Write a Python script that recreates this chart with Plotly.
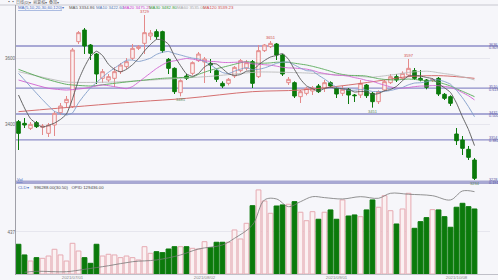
import plotly.graph_objects as go
import pandas as pd

W, H = 498, 280

opens = [3409, 3404, 3389, 3406, 3392, 3374, 3399, 3436, 3466, 3454,
         3649, 3684, 3639, 3612, 3539, 3534, 3539, 3559, 3574, 3599,
         3629, 3644, 3666, 3679, 3679, 3596, 3569, 3496, 3546, 3554,
         3592, 3588, 3584, 3562, 3524, 3524, 3546, 3562, 3569, 3589,
         3544, 3622, 3634, 3642, 3609, 3526, 3526, 3484, 3494, 3501,
         3516, 3509, 3526, 3509, 3494, 3506, 3489, 3489, 3519, 3494,
         3469, 3504, 3526, 3544, 3539, 3549, 3562, 3539, 3534, 3532,
         3539, 3491, 3484, 3372, 3354, 3326, 3294]
highs = [3414, 3420, 3408, 3411, 3402, 3405, 3441, 3465, 3486, 3630,
         3681, 3690, 3642, 3615, 3567, 3552, 3573, 3585, 3600, 3642,
         3639, 3729, 3684, 3686, 3682, 3600, 3572, 3536, 3552, 3590,
         3618, 3603, 3597, 3566, 3530, 3540, 3576, 3597, 3594, 3594,
         3639, 3642, 3651, 3645, 3612, 3543, 3530, 3504, 3513, 3516,
         3522, 3534, 3530, 3512, 3516, 3510, 3492, 3534, 3522, 3498,
         3503, 3534, 3552, 3552, 3560, 3597, 3570, 3564, 3537, 3540,
         3543, 3495, 3488, 3390, 3366, 3336, 3300]
lows = [3324, 3390, 3384, 3390, 3369, 3363, 3366, 3429, 3453, 3450,
        3642, 3612, 3594, 3522, 3525, 3528, 3513, 3552, 3567, 3594,
        3624, 3612, 3654, 3656, 3615, 3552, 3492, 3485, 3534, 3548,
        3588, 3525, 3555, 3528, 3510, 3518, 3540, 3557, 3563, 3510,
        3540, 3618, 3630, 3594, 3546, 3519, 3480, 3465, 3488, 3489,
        3495, 3498, 3512, 3480, 3486, 3462, 3468, 3480, 3480, 3451,
        3462, 3500, 3522, 3528, 3534, 3544, 3534, 3530, 3506, 3528,
        3486, 3474, 3456, 3339, 3309, 3294, 3234]
closes = [3374, 3399, 3401, 3394, 3396, 3399, 3434, 3456, 3476, 3624,
          3676, 3636, 3614, 3552, 3559, 3544, 3559, 3579, 3589, 3629,
          3634, 3676, 3675, 3664, 3622, 3569, 3499, 3532, 3539, 3586,
          3612, 3597, 3579, 3536, 3516, 3536, 3572, 3592, 3586, 3524,
          3622, 3639, 3644, 3609, 3552, 3536, 3486, 3499, 3509, 3510,
          3499, 3526, 3516, 3492, 3506, 3489, 3487, 3524, 3487, 3469,
          3499, 3529, 3544, 3534, 3554, 3569, 3539, 3534, 3512, 3536,
          3492, 3479, 3464, 3352, 3329, 3302, 3239]
volumes = [309, 198, 135, 170, 163, 187, 257, 198, 135, 319,
           239, 170, 111, 309, 187, 205, 198, 170, 187, 170,
           146, 284, 215, 232, 222, 260, 284, 284, 284, 267,
           260, 336, 274, 330, 330, 330, 458, 364, 527, 710,
           874, 759, 631, 707, 718, 725, 752, 642, 554, 648,
           569, 642, 666, 569, 770, 603, 614, 596, 666, 770,
           694, 814, 658, 520, 676, 839, 475, 544, 586, 669,
           666, 596, 486, 694, 735, 700, 676]
vol_ma_idx = [1, 3, 8, 11, 15, 19, 23, 27, 30, 34, 36, 39, 41, 43, 45, 47,
              49, 51, 54, 57, 60, 62, 65, 69, 72, 74, 76]
vol_ma = [18, 28, 24, 49, 86, 128, 146, 198, 260, 302, 371, 510, 770, 780,
          700, 752, 804, 794, 780, 804, 787, 839, 829, 814, 770, 863, 856]

# leading parts of the moving averages (earlier history not shown)
ma5_lead_idx = [0, 1, 2, 3]
ma5_lead = [3489, 3450, 3418, 3403]
ma10_lead_idx = [0, 2, 4, 6, 8]
ma10_lead = [3554, 3514, 3475, 3440, 3429]
ma20_lead_idx = [0, 5, 8, 11, 14, 16, 18]
ma20_lead = [3534, 3509, 3504, 3509, 3519, 3514, 3508]
ma30_lead_idx = [0, 4, 8, 12, 16, 20, 24, 28]
ma30_lead = [3566, 3540, 3521, 3516, 3524, 3532, 3539, 3542]
ma60_lead_idx = [0, 8, 16, 24, 32, 40, 48, 56, 58]
ma60_lead = [3559, 3528, 3528, 3536, 3545, 3558, 3555, 3546, 3543]
ma120_idx = [0, 11, 20, 28, 39, 47, 55, 61, 65, 70, 73, 76]
ma120 = [3439, 3456, 3469, 3479, 3499, 3504, 3519, 3534, 3544, 3547, 3544, 3539]

fib_high, fib_low = 3762, 3102
fib_ratios = [0.809, 0.618, 0.500, 0.382, 0.191]

high_marks = [21, 42, 65]
low_marks = [27, 59, 76]

date_ticks = [9, 31, 53, 73]
date_labels = ["2021/07/01", "2021/08/02", "2021/09/01", "2021/10/08"]
price_ticks = [3400, 3600]
vol_ticks = [437]

header = [("MA5", 3334.86, "#555555"), ("MA10", 3422.60, "#5b7fb5"),
          ("MA20", 3475.25, "#cc44cc"), ("MA30", 3482.80, "#3c9a3c"),
          ("MA60", 3535.00, "#aaaaaa"), ("MA120", 3539.23, "#d05050")]
ma_colors = {"MA5": "#555555", "MA10": "#7f9cc8", "MA20": "#d060d0",
             "MA30": "#55a855", "MA60": "#bbbbbb", "MA120": "#d06060"}

N = len(closes)
idx = list(range(N))

UP_LINE, UP_FILL = "#e48a8a", "#fbf1f2"
DN = "#0b7a0b"
FIB = "#8e8ec8"
FONT = "Liberation Sans, Arial, sans-serif"

fig = go.Figure()

def ma_trace(name, n, lead_idx, lead_vals):
    s = pd.Series(closes).rolling(n).mean()
    comp = [i for i in idx if i >= n - 1]
    xs = list(lead_idx) + comp
    ys = list(lead_vals) + [float(s[i]) for i in comp]
    return go.Scatter(x=xs, y=ys, mode="lines",
                      line=dict(color=ma_colors[name], width=0.9, shape="spline", smoothing=0.5),
                      xaxis="x", yaxis="y", hoverinfo="skip", showlegend=False)

fig.add_trace(go.Scatter(x=ma120_idx, y=ma120, mode="lines",
                         line=dict(color=ma_colors["MA120"], width=0.9, shape="spline"),
                         xaxis="x", yaxis="y", hoverinfo="skip", showlegend=False))
fig.add_trace(ma_trace("MA60", 60, ma60_lead_idx, ma60_lead))
fig.add_trace(ma_trace("MA30", 30, ma30_lead_idx, ma30_lead))
fig.add_trace(ma_trace("MA20", 20, ma20_lead_idx, ma20_lead))
fig.add_trace(ma_trace("MA10", 10, ma10_lead_idx, ma10_lead))
fig.add_trace(ma_trace("MA5", 5, ma5_lead_idx, ma5_lead))

fig.add_trace(go.Candlestick(
    x=idx, open=opens, high=highs, low=lows, close=closes,
    increasing=dict(line=dict(color=UP_LINE, width=1), fillcolor=UP_FILL),
    decreasing=dict(line=dict(color=DN, width=1), fillcolor=DN),
    whiskerwidth=0, xaxis="x", yaxis="y", hoverinfo="skip", showlegend=False))

up = [c >= o for o, c in zip(opens, closes)]
fig.add_trace(go.Bar(
    x=idx, y=volumes, width=0.8,
    marker=dict(color=[UP_FILL if u else DN for u in up],
                line=dict(color=["#e6aab2" if u else DN for u in up], width=1)),
    xaxis="x2", yaxis="y2", hoverinfo="skip", showlegend=False))
fig.add_trace(go.Scatter(x=vol_ma_idx, y=vol_ma, mode="lines",
                         line=dict(color="#777777", width=0.8, shape="spline"),
                         xaxis="x2", yaxis="y2", hoverinfo="skip", showlegend=False))

def py(ypx):
    return 1 - ypx / H

def px(xpx):
    return xpx / W

xr = [(16 - 18.5) / 6, (490 - 18.5) / 6]
shapes = []
annotations = []

for r in fib_ratios:
    lvl = fib_low + r * (fib_high - fib_low)
    shapes.append(dict(type="line", xref="paper", yref="y", x0=px(16), x1=1, y0=lvl, y1=lvl,
                       line=dict(color=FIB, width=1.3), layer="below"))
    annotations.append(dict(xref="paper", yref="y", x=px(488), y=lvl, text=str(int(round(lvl))),
                            showarrow=False, xanchor="left", yanchor="bottom",
                            font=dict(size=3.8, color="#5555a5", family=FONT), yshift=-1.5,
                            borderpad=0))
    annotations.append(dict(xref="paper", yref="y", x=px(488), y=lvl, text=f"{r:.3f}",
                            showarrow=False, xanchor="left", yanchor="top",
                            font=dict(size=3.8, color="#5555a5", family=FONT), yshift=1.5,
                            borderpad=0))

shapes += [
    dict(type="line", xref="paper", yref="paper", x0=0, x1=1, y0=py(5), y1=py(5),
         line=dict(color="#c8c8d0", width=1)),
    dict(type="line", xref="paper", yref="paper", x0=px(16), x1=1, y0=py(181), y1=py(181),
         line=dict(color="#a8a8d0", width=1)),
    dict(type="line", xref="paper", yref="paper", x0=px(16), x1=1, y0=py(183.5), y1=py(183.5),
         line=dict(color="#a8a8d0", width=1)),
    dict(type="line", xref="paper", yref="paper", x0=px(15.5), x1=px(15.5), y0=py(5), y1=py(275),
         line=dict(color="#a0a0a8", width=1)),
    dict(type="line", xref="paper", yref="paper", x0=px(16), x1=1, y0=py(274.5), y1=py(274.5),
         line=dict(color="#c0c0c8", width=1)),
]

for i in high_marks:
    annotations.append(dict(x=i, y=highs[i], xref="x", yref="y", text=str(highs[i]),
                            showarrow=False, yanchor="bottom", yshift=0, borderpad=0,
                            font=dict(size=4, color="#d04848", family=FONT)))
for i in low_marks:
    annotations.append(dict(x=i, y=lows[i], xref="x", yref="y", text=str(lows[i]),
                            showarrow=False, yanchor="top", yshift=0, borderpad=0,
                            font=dict(size=4, color="#5a8a5a", family=FONT)))

annotations.append(dict(xref="paper", yref="paper", x=px(6), y=py(2.3), text="▪▪ 日线(D)▾  前复权▾  叠加▾",
                        showarrow=False, xanchor="left", yanchor="middle", borderpad=0,
                        font=dict(size=4, color="#666666", family="Noto Sans CJK SC")))
annotations.append(dict(xref="paper", yref="paper", x=px(17), y=py(7.3), text="<u>MA(5,10,20,30,60,120)</u>▾",
                        showarrow=False, xanchor="left", yanchor="middle", borderpad=0,
                        font=dict(size=4.3, color="#4a6fc0", family=FONT)))
hx = [68, 95, 122, 148, 176, 202]
for (name, val, col), x0 in zip(header, hx):
    annotations.append(dict(xref="paper", yref="paper", x=px(x0), y=py(7.3), text=f"{name} {val:.2f}",
                            showarrow=False, xanchor="left", yanchor="middle", borderpad=0,
                            font=dict(size=4.3, color=col, family=FONT)))

annotations += [
    dict(xref="paper", yref="paper", x=px(16), y=py(179.5), text="<u>Vol</u>", showarrow=False,
         xanchor="left", yanchor="middle", borderpad=0,
         font=dict(size=4, color="#4a6fc0", family=FONT)),
    dict(xref="paper", yref="paper", x=px(17), y=py(187.5), text="CLD▾", showarrow=False,
         xanchor="left", yanchor="middle", borderpad=0,
         font=dict(size=4.3, color="#4a6fc0", family=FONT)),
    dict(xref="paper", yref="paper", x=px(33), y=py(187.5), text="996288.00(30.50)   OPID 129436.00",
         showarrow=False, xanchor="left", yanchor="middle", borderpad=0,
         font=dict(size=4.3, color="#444444", family=FONT)),
]

fig.update_layout(
    width=W, height=H, margin=dict(l=0, r=0, t=0, b=0),
    paper_bgcolor="#f6f6fa", plot_bgcolor="#f6f6fa",
    boxgap=0.15, bargap=0.2, showlegend=False,
    xaxis=dict(domain=[px(16), px(490)], range=xr, anchor="y", showticklabels=False,
               showgrid=False, zeroline=False, rangeslider=dict(visible=False), fixedrange=True),
    yaxis=dict(domain=[py(183), py(5)], range=[3225, 3759], anchor="x",
               tickvals=price_ticks, ticktext=[str(v) for v in price_ticks],
               tickfont=dict(size=4.5, color="#666666", family=FONT),
               showgrid=True, gridcolor="#e6e6ee", gridwidth=1, zeroline=False,
               ticks="", automargin=False),
    xaxis2=dict(domain=[px(16), px(490)], range=xr, anchor="y2", matches="x",
                tickvals=date_ticks, ticktext=date_labels, ticks="",
                tickfont=dict(size=4.3, color="#888888", family=FONT),
                showgrid=False, zeroline=False, automargin=False),
    yaxis2=dict(domain=[py(274), py(188)], range=[0, 894], anchor="x2",
                tickvals=vol_ticks, ticktext=[str(v) for v in vol_ticks],
                tickfont=dict(size=4.5, color="#666666", family=FONT),
                showgrid=True, gridcolor="#e6e6ee", zeroline=False, ticks="", automargin=False),
    shapes=shapes, annotations=annotations,
)

fig.write_html("out.html")
